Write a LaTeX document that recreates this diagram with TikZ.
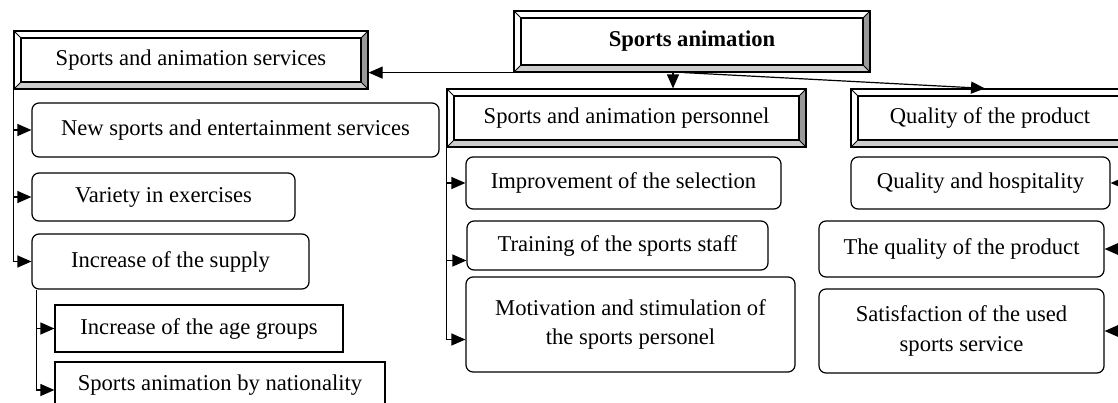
\documentclass[tikz,border=0pt]{standalone}
\usepackage{fontspec}
\setmainfont{Liberation Serif}
\usepackage{xcolor}
\usetikzlibrary{arrows.meta,positioning}
\definecolor{bevellight}{gray}{0.80}
\definecolor{beveldark}{gray}{0.60}

\begin{document}
\begin{tikzpicture} [
      x = 1pt, y = -1pt,
      every node/.style = {font = \fontsize{22.6}{29.5}\selectfont, inner sep = 0, align = center},
      bevelbox/.style = {draw, line width = 1.2pt, rectangle, minimum height = 58pt,
        path picture = {
          \path (path picture bounding box.south west) coordinate (bsw)
                (path picture bounding box.south east) coordinate (bse)
                (path picture bounding box.north east) coordinate (bne)
                (path picture bounding box.north west) coordinate (bnw);
          \fill[bevellight] (bsw) -- (bse) -- ([shift={(-7pt,7pt)}]bse) -- ([shift={(7pt,7pt)}]bsw) -- cycle;
          \fill[beveldark] (bse) -- (bne) -- ([shift={(-7pt,-7pt)}]bne) -- ([shift={(-7pt,7pt)}]bse) -- cycle;
          \draw[line width = 1.2pt] ([shift={(7pt,7pt)}]bsw) rectangle ([shift={(-7pt,-7pt)}]bne);
          \draw[line width = 0.8pt] (bsw) -- ++(7pt,7pt) (bse) -- ++(-7pt,7pt)
                (bne) -- ++(-7pt,-7pt) (bnw) -- ++(7pt,-7pt);
        }},
      roundbox/.style = {draw, line width = 1.2pt, rounded corners = 7pt},
      plainbox/.style = {draw, line width = 1.2pt},
      link/.style = {line width = 1.2pt, -{Triangle[length = 14pt, width = 12pt]}}
      ]

  \useasboundingbox (0,0) rectangle (1118,402);
  \clip (0,0) rectangle (1118,402);

  % headings
  \node [bevelbox, minimum width = 356pt, minimum height = 61pt,
         font = \fontsize{22.6}{29.5}\selectfont\bfseries] (anim) at (692,41.5) {Sports animation};
  \node [bevelbox, minimum width = 354pt] (serv) at (191,60) {Sports and animation services};
  \node [bevelbox, minimum width = 359pt] (pers) at (626.5,118) {Sports and animation personnel};
  \node [bevelbox, minimum width = 278pt] (qual) at (990,118) {Quality of the product};

  % services
  \node [roundbox, minimum width = 407pt, minimum height = 54pt] (newserv) at (235.5,130) {New sports and entertainment services};
  \node [roundbox, minimum width = 263pt, minimum height = 48pt] (variety) at (163.5,197) {Variety in exercises};
  \node [roundbox, minimum width = 277pt, minimum height = 55pt] (supply) at (170.5,261.5) {Increase of the supply};
  \node [plainbox, minimum width = 288pt, minimum height = 47pt] (agegr) at (199,328.5) {Increase of the age groups};
  \node [plainbox, minimum width = 330pt, minimum height = 46pt] (nation) at (220,385) {Sports animation by nationality};

  % personnel
  \node [roundbox, minimum width = 315pt, minimum height = 52pt] (improve) at (623.5,183) {Improvement of the selection};
  \node [roundbox, minimum width = 301pt, minimum height = 49pt] (train) at (617.5,245.5) {Training of the sports staff};
  \node [roundbox, minimum width = 329pt, minimum height = 95pt] (motiv) at (630.5,324.5) {Motivation and stimulation of\\the sports personel};

  % product
  \node [roundbox, minimum width = 259pt, minimum height = 52pt] (hosp) at (980.5,183) {Quality and hospitality};
  \node [roundbox, minimum width = 285pt, minimum height = 56pt] (prodq) at (961.5,249) {The quality of the product};
  \node [roundbox, minimum width = 285pt, minimum height = 84pt] (satis) at (961.5,331) {Satisfaction of the used\\sports service};
  \coordinate (rbus) at (1124,0);

  % top arrows
  \draw [link] (anim.south west) -- (anim.south west -| serv.east);
  \draw [link] ([xshift = -19pt]anim.south) -- ([xshift = -19pt]anim.south |- pers.north);
  \draw [link] ([xshift = -8pt]anim.south) -- ([xshift = -5pt]qual.north);

  \draw [link] (serv.south west) |- (supply.west);
  \draw [link] (serv.south west |- newserv.west) -- (newserv.west);
  \draw [link] (serv.south west |- variety.west) -- (variety.west);
  \draw [link] ([xshift = 5pt]supply.south west) |- ([yshift = -5pt]nation.west);
  \draw [link] ([xshift = 5pt]supply.south west |- agegr.west) -- (agegr.west);

  \draw [link] (pers.south west) |- ([yshift = -15pt]motiv.west);
  \draw [link] (pers.south west |- improve.west) -- (improve.west);
  \draw [link] ([yshift = -15pt]train.west -| pers.south west) -- ([yshift = -15pt]train.west);

  \draw [link] (rbus |- hosp.east) -- (hosp.east);
  \draw [link] (rbus |- prodq.east) -- (prodq.east);
  \draw [link] (rbus |- satis.east) -- (satis.east);
\end{tikzpicture}
\end{document}
